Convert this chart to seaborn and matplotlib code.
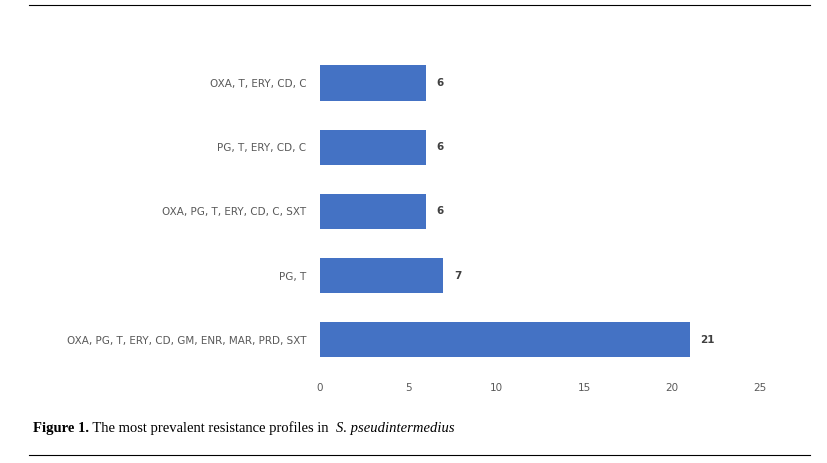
import matplotlib
matplotlib.use("Agg")
import matplotlib.pyplot as plt
import seaborn as sns
import pandas as pd

profiles = ["OXA, T, ERY, CD, C", "PG, T, ERY, CD, C", "OXA, PG, T, ERY, CD, C, SXT",
            "PG, T", "OXA, PG, T, ERY, CD, GM, ENR, MAR, PRD, SXT"]
counts = [6, 6, 6, 7, 21]
xticks = [0, 5, 10, 15, 20, 25]

df = pd.DataFrame({"profile": profiles, "count": counts})
fig = plt.figure(figsize=(8.27, 4.63), dpi=100)
ax = fig.add_axes([0.387, 0.197, 0.532, 0.693])
sns.barplot(data=df, y="profile", x="count", color="#4472C4", width=0.55, ax=ax, saturation=1)
ax.set_xlim(0, 25)
ax.set_ylim(4.5, -0.5)
ax.set_xticks(xticks)
ax.set_xlabel(""); ax.set_ylabel("")
for s in ax.spines.values():
    s.set_visible(False)
ax.tick_params(length=0, colors="#595959", labelsize=7.5)
ax.tick_params(axis="x", pad=8)
ax.tick_params(axis="y", pad=10)
for i, v in enumerate(counts):
    ax.text(v + 0.6, i, str(v), va="center", ha="left", fontsize=7.5, fontweight="bold", color="#404040")

fig.add_artist(plt.Line2D([0.035, 0.98], [0.99, 0.99], color="black", lw=0.8))
fig.add_artist(plt.Line2D([0.035, 0.98], [0.018, 0.018], color="black", lw=0.8))

renderer = fig.canvas.get_renderer()
x = 0.04
parts = [("Figure 1.", "bold", "normal"),
         (" The most prevalent resistance profiles in ", "normal", "normal"),
         ("S. pseudintermedius", "normal", "italic")]
for txt, w, st in parts:
    t = fig.text(x, 0.075, txt, fontsize=10.5, family="Liberation Serif",
                 fontweight=w, style=st, va="center")
    bb = t.get_window_extent(renderer)
    x += bb.width / fig.bbox.width
    if txt.endswith(" "):
        x += 0.004
fig.savefig("out.png", dpi=100)
